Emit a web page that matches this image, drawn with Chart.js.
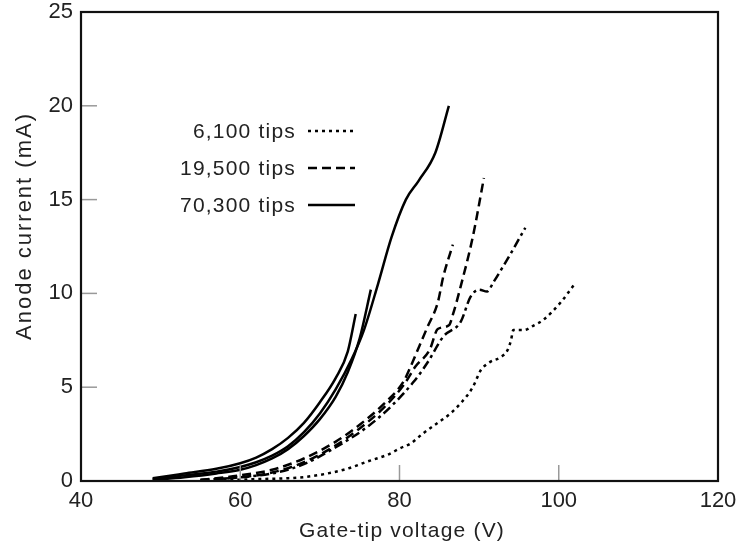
<!DOCTYPE html>
<html>
<head>
<meta charset="utf-8">
<script src="https://cdn.jsdelivr.net/npm/chart.js@4.4.1/dist/chart.umd.min.js"></script>
<style>
  html, body { margin: 0; padding: 0; background: #fff; }
</style>
</head>
<body>
<canvas id="chart" width="743" height="552"></canvas>
<script>
// Gate-tip voltage (V) / anode current (mA)

// 70,300 tips - three solid sweeps
const solidAV = [49, 53, 57, 60, 62, 64, 66, 68, 70, 72, 74, 75.5, 77.3, 79, 80.8, 82.4, 84.5, 86.2];
const solidAI = [0.1, 0.3, 0.5, 0.75, 1.0, 1.35, 1.85, 2.6, 3.6, 4.9, 6.5, 8.0, 10.5, 13.0, 15.0, 16.0, 17.5, 20.0];
const solidBV = [49, 53, 57, 60, 62, 64, 66, 68, 70, 72, 73.5, 75, 76.4];
const solidBI = [0.05, 0.2, 0.4, 0.6, 0.85, 1.2, 1.7, 2.4, 3.3, 4.5, 5.8, 7.6, 10.2];
const solidCV = [49, 53, 57, 60, 62, 64, 66, 68, 70, 72, 73.5, 74.5];
const solidCI = [0.15, 0.4, 0.65, 0.95, 1.25, 1.7, 2.3, 3.1, 4.2, 5.5, 6.9, 8.9];

// 19,500 tips - dashed sweeps
const dashAV = [55, 60, 64, 68, 72, 75, 78, 80.5, 81.5, 82.5, 83.5, 84.8, 85.5, 86.7];
const dashAI = [0.05, 0.3, 0.6, 1.2, 2.1, 3.0, 4.1, 5.3, 6.2, 7.2, 8.2, 9.5, 10.9, 12.6];
const dashBV = [55, 60, 64, 68, 72, 75, 78, 80.5, 82, 83.8, 84.8, 86.2, 86.8, 87.7, 89.2, 90.6];
const dashBI = [0.05, 0.2, 0.45, 1.0, 1.9, 2.8, 3.9, 5.1, 6.1, 7.0, 8.1, 8.3, 9.0, 10.4, 13.0, 16.15];
const dashCV = [55, 60, 64, 68, 72, 76, 79, 81.8, 83.5, 85.5, 87.7, 88.9, 90, 91, 91.8, 94, 95.8];
const dashCI = [0.05, 0.2, 0.4, 0.9, 1.8, 2.9, 4.0, 5.3, 6.3, 7.7, 8.5, 9.8, 10.2, 10.1, 10.6, 12.15, 13.5];

// 6,100 tips - dotted sweep
const dotV = [57, 62, 66, 68.8, 73, 76.4, 78.5, 80.1, 81.4, 83, 84.8, 86.4, 87.7, 89.2, 89.8, 90.2, 91.4, 92.7, 93.6, 94, 94.3, 95.6, 96.9, 98.1, 100.3, 101.9];
const dotI = [0.02, 0.1, 0.15, 0.25, 0.6, 1.1, 1.4, 1.75, 2.0, 2.55, 3.1, 3.6, 4.15, 5.0, 5.55, 5.9, 6.35, 6.6, 7.0, 7.5, 8.05, 8.05, 8.3, 8.6, 9.55, 10.45];

const xTicks = [40, 60, 80, 100, 120];
const yTicks = [0, 5, 10, 15, 20, 25];

const legendLabels = ["6,100 tips", "19,500 tips", "70,300 tips"];
const legendDashes = [[3, 4], [9, 5], []];

const FONT = "'Liberation Sans', Arial, Helvetica, sans-serif";

function pts(xs, ys) {
    return xs.map((v, i) => ({ x: v, y: ys[i] }));
}

function line(xs, ys, dash) {
    return {
        data: pts(xs, ys),
        borderColor: "#000",
        borderWidth: 2.5,
        borderDash: dash,
        pointRadius: 0,
        fill: false,
        cubicInterpolationMode: "monotone"
    };
}

// inward ticks, full frame, legend and axis titles
const decorations = {
    id: "decorations",
    afterDatasetsDraw(chart) {
        const { ctx, chartArea: a, scales: { x, y } } = chart;
        ctx.save();

        ctx.strokeStyle = "#999";
        ctx.lineWidth = 1.5;
        xTicks.forEach(v => {
            const px = x.getPixelForValue(v);
            ctx.beginPath();
            ctx.moveTo(px, a.bottom);
            ctx.lineTo(px, a.bottom - 16);
            ctx.stroke();
        });
        yTicks.forEach(v => {
            const py = y.getPixelForValue(v);
            ctx.beginPath();
            ctx.moveTo(a.left, py);
            ctx.lineTo(a.left + 16, py);
            ctx.stroke();
        });

        ctx.strokeStyle = "#111";
        ctx.lineWidth = 2.2;
        ctx.strokeRect(a.left, a.top, a.right - a.left, a.bottom - a.top);

        // legend
        ctx.fillStyle = "#222";
        ctx.font = "21px " + FONT;
        ctx.letterSpacing = "1.2px";
        ctx.textAlign = "right";
        ctx.textBaseline = "middle";
        legendLabels.forEach((label, i) => {
            const ly = 132 + i * 37;
            ctx.fillText(label, 296, ly);
            ctx.strokeStyle = "#000";
            ctx.lineWidth = 2.5;
            ctx.setLineDash(legendDashes[i]);
            ctx.beginPath();
            ctx.moveTo(308, ly - 1);
            ctx.lineTo(355, ly - 1);
            ctx.stroke();
        });
        ctx.setLineDash([]);

        // axis titles
        ctx.textAlign = "center";
        ctx.fillText("Gate-tip voltage (V)", 402, 531);
        ctx.font = "22px " + FONT;
        ctx.letterSpacing = "2px";
        ctx.translate(25, 226);
        ctx.rotate(-Math.PI / 2);
        ctx.fillText("Anode current (mA)", 0, 0);
        ctx.restore();
    }
};

const ctx = document.getElementById("chart").getContext("2d");
const chart = new Chart(ctx, {
    type: "line",
    data: {
        datasets: [
            line(solidAV, solidAI, []),
            line(solidBV, solidBI, []),
            line(solidCV, solidCI, []),
            line(dashAV, dashAI, [9, 5]),
            line(dashBV, dashBI, [9, 5]),
            line(dashCV, dashCI, [9, 4, 3, 4]),
            line(dotV, dotI, [3, 4])
        ]
    },
    options: {
        responsive: false,
        animation: false,
        layout: { padding: { top: 12, right: 25, left: 0, bottom: 0 } },
        plugins: { legend: { display: false }, tooltip: { enabled: false } },
        scales: {
            x: {
                type: "linear",
                min: 40,
                max: 120,
                afterFit(scale) {
                    scale.height = 71;
                    scale.paddingLeft = 0;
                    scale.paddingRight = 0;
                },
                afterBuildTicks(scale) { scale.ticks = xTicks.map(v => ({ value: v })); },
                ticks: { color: "#222", font: { family: FONT, size: 22 }, padding: 7, maxRotation: 0 },
                grid: { drawOnChartArea: false, drawTicks: false },
                border: { color: "#111", width: 2 }
            },
            y: {
                min: 0,
                max: 25,
                afterFit(scale) {
                    scale.width = 81;
                    scale.paddingTop = 0;
                    scale.paddingBottom = 0;
                },
                afterBuildTicks(scale) { scale.ticks = yTicks.map(v => ({ value: v })); },
                ticks: { color: "#222", font: { family: FONT, size: 22 }, padding: 8 },
                grid: { drawOnChartArea: false, drawTicks: false },
                border: { color: "#111", width: 2 }
            }
        }
    },
    plugins: [decorations]
});
</script>
</body>
</html>
